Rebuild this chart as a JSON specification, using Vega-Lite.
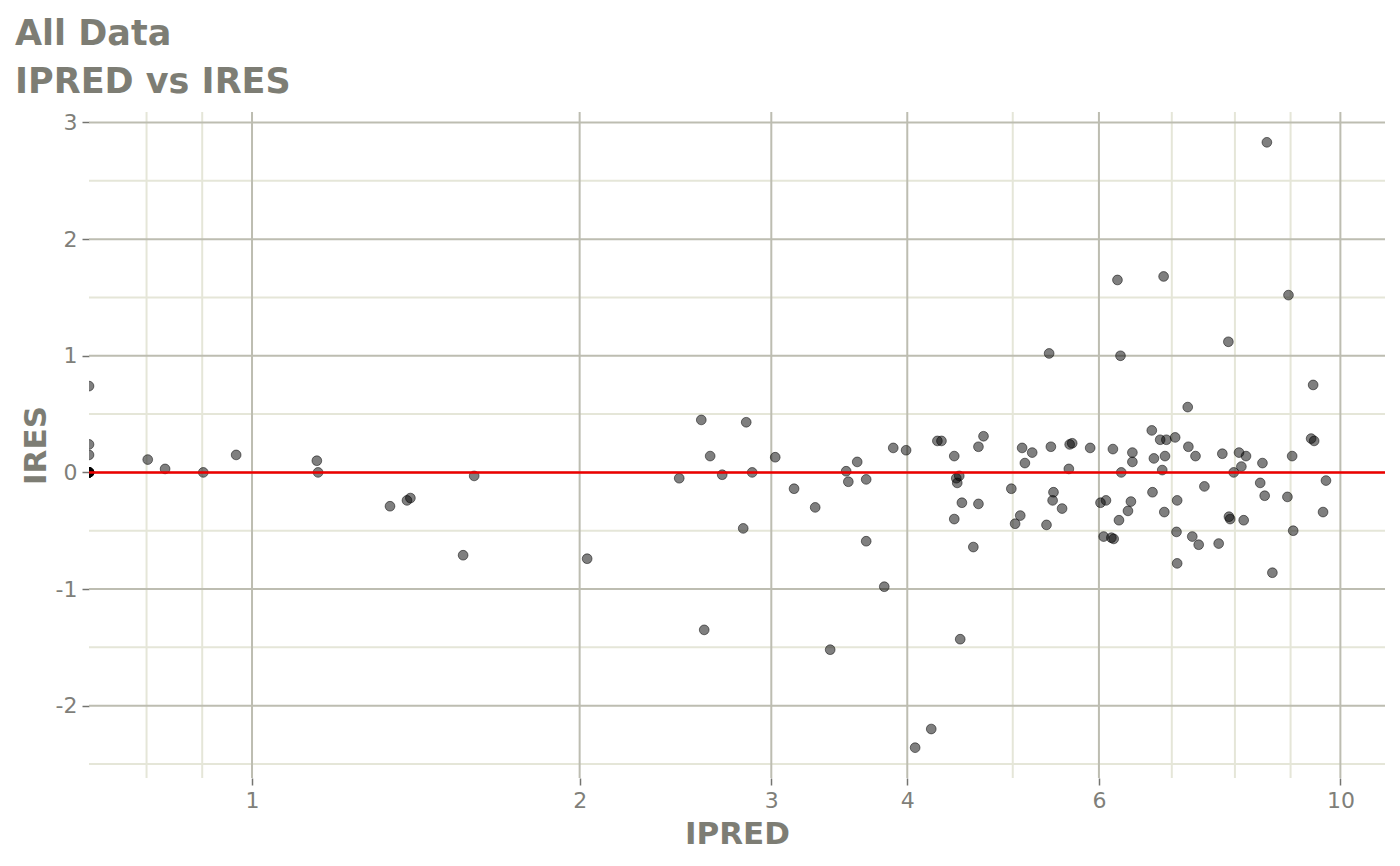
{
  "$schema": "https://vega.github.io/schema/vega-lite/v6.json",
  "width": 1296,
  "height": 666,
  "autosize": {"type": "none"},
  "padding": {"left": 89, "top": 112, "right": 15, "bottom": 88},
  "background": "white",
  "config": {
    "view": {"stroke": null},
    "font": "DejaVu Sans",
    "axis": {
      "grid": false,
      "domain": false,
      "ticks": true,
      "tickSize": 7,
      "tickWidth": 1.5,
      "tickColor": "#747470",
      "labelFont": "DejaVu Sans",
      "labelFontSize": 22,
      "labelColor": "#7f7f7a",
      "labelPadding": 5,
      "titleFont": "DejaVu Sans",
      "titleFontSize": 31,
      "titleFontWeight": "bold",
      "titleColor": "#7d7d74"
    },
    "axisX": {"titlePadding": 8},
    "axisY": {"titlePadding": 3}
  },
  "title": {
    "text": ["All Data", "IPRED vs IRES"],
    "anchor": "start",
    "frame": "group",
    "dx": -74,
    "offset": 11,
    "font": "DejaVu Sans",
    "fontSize": 35,
    "fontWeight": "bold",
    "color": "#7d7d74",
    "lineHeight": 48
  },
  "datasets": {
    "minorX": [{"v": 0.8}, {"v": 0.9}, {"v": 5}, {"v": 7}, {"v": 8}, {"v": 9}],
    "minorY": [{"v": -2.5}, {"v": -1.5}, {"v": -0.5}, {"v": 0.5}, {"v": 1.5}, {"v": 2.5}],
    "majorX": [{"v": 1}, {"v": 2}, {"v": 3}, {"v": 4}, {"v": 6}, {"v": 10}],
    "majorY": [{"v": -2}, {"v": -1}, {"v": 0}, {"v": 1}, {"v": 2}, {"v": 3}],
    "ref": [{"v": 0}],
    "points": [
      {"IPRED": 0.7083, "IRES": 0.74},
      {"IPRED": 0.7083, "IRES": 0.24},
      {"IPRED": 0.7083, "IRES": 0.15},
      {"IPRED": 0.7083, "IRES": 0},
      {"IPRED": 0.7083, "IRES": 0},
      {"IPRED": 0.7083, "IRES": 0},
      {"IPRED": 0.7083, "IRES": 0},
      {"IPRED": 0.7083, "IRES": 0},
      {"IPRED": 0.7083, "IRES": 0},
      {"IPRED": 0.802, "IRES": 0.11},
      {"IPRED": 0.832, "IRES": 0.03},
      {"IPRED": 0.902, "IRES": 0.0},
      {"IPRED": 0.967, "IRES": 0.15},
      {"IPRED": 1.147, "IRES": 0.10},
      {"IPRED": 1.150, "IRES": 0.0},
      {"IPRED": 1.339, "IRES": -0.29},
      {"IPRED": 1.388, "IRES": -0.24},
      {"IPRED": 1.398, "IRES": -0.22},
      {"IPRED": 1.563, "IRES": -0.71},
      {"IPRED": 1.600, "IRES": -0.03},
      {"IPRED": 2.032, "IRES": -0.74},
      {"IPRED": 2.469, "IRES": -0.05},
      {"IPRED": 2.587, "IRES": 0.45},
      {"IPRED": 2.603, "IRES": -1.35},
      {"IPRED": 2.636, "IRES": 0.14},
      {"IPRED": 2.704, "IRES": -0.02},
      {"IPRED": 2.827, "IRES": -0.48},
      {"IPRED": 2.845, "IRES": 0.43},
      {"IPRED": 2.881, "IRES": 0.0},
      {"IPRED": 3.025, "IRES": 0.13},
      {"IPRED": 3.148, "IRES": -0.14},
      {"IPRED": 3.292, "IRES": -0.30},
      {"IPRED": 3.398, "IRES": -1.52},
      {"IPRED": 3.515, "IRES": 0.01},
      {"IPRED": 3.531, "IRES": -0.08},
      {"IPRED": 3.598, "IRES": 0.09},
      {"IPRED": 3.667, "IRES": -0.59},
      {"IPRED": 3.667, "IRES": -0.06},
      {"IPRED": 3.81, "IRES": -0.98},
      {"IPRED": 3.883, "IRES": 0.21},
      {"IPRED": 3.99, "IRES": 0.19},
      {"IPRED": 4.067, "IRES": -2.36},
      {"IPRED": 4.208, "IRES": -2.20},
      {"IPRED": 4.263, "IRES": 0.27},
      {"IPRED": 4.30, "IRES": 0.27},
      {"IPRED": 4.418, "IRES": 0.14},
      {"IPRED": 4.418, "IRES": -0.40},
      {"IPRED": 4.437, "IRES": -0.05},
      {"IPRED": 4.446, "IRES": -0.09},
      {"IPRED": 4.465, "IRES": -0.03},
      {"IPRED": 4.474, "IRES": -1.43},
      {"IPRED": 4.49, "IRES": -0.26},
      {"IPRED": 4.60, "IRES": -0.64},
      {"IPRED": 4.65, "IRES": 0.22},
      {"IPRED": 4.65, "IRES": -0.27},
      {"IPRED": 4.70, "IRES": 0.31},
      {"IPRED": 4.985, "IRES": -0.14},
      {"IPRED": 5.025, "IRES": -0.44},
      {"IPRED": 5.08, "IRES": -0.37},
      {"IPRED": 5.10, "IRES": 0.21},
      {"IPRED": 5.13, "IRES": 0.08},
      {"IPRED": 5.21, "IRES": 0.17},
      {"IPRED": 5.37, "IRES": -0.45},
      {"IPRED": 5.40, "IRES": 1.02},
      {"IPRED": 5.42, "IRES": 0.22},
      {"IPRED": 5.44, "IRES": -0.24},
      {"IPRED": 5.45, "IRES": -0.17},
      {"IPRED": 5.55, "IRES": -0.31},
      {"IPRED": 5.63, "IRES": 0.03},
      {"IPRED": 5.64, "IRES": 0.24},
      {"IPRED": 5.67, "IRES": 0.25},
      {"IPRED": 5.89, "IRES": 0.21},
      {"IPRED": 6.02, "IRES": -0.26},
      {"IPRED": 6.06, "IRES": -0.55},
      {"IPRED": 6.09, "IRES": -0.24},
      {"IPRED": 6.16, "IRES": -0.56},
      {"IPRED": 6.18, "IRES": 0.20},
      {"IPRED": 6.19, "IRES": -0.57},
      {"IPRED": 6.24, "IRES": 1.65},
      {"IPRED": 6.26, "IRES": -0.41},
      {"IPRED": 6.28, "IRES": 1.00},
      {"IPRED": 6.29, "IRES": 0.0},
      {"IPRED": 6.38, "IRES": -0.33},
      {"IPRED": 6.42, "IRES": -0.25},
      {"IPRED": 6.44, "IRES": 0.17},
      {"IPRED": 6.44, "IRES": 0.09},
      {"IPRED": 6.71, "IRES": 0.36},
      {"IPRED": 6.72, "IRES": -0.17},
      {"IPRED": 6.74, "IRES": 0.12},
      {"IPRED": 6.83, "IRES": 0.28},
      {"IPRED": 6.86, "IRES": 0.02},
      {"IPRED": 6.88, "IRES": 1.68},
      {"IPRED": 6.89, "IRES": -0.34},
      {"IPRED": 6.90, "IRES": 0.14},
      {"IPRED": 6.92, "IRES": 0.28},
      {"IPRED": 7.05, "IRES": 0.30},
      {"IPRED": 7.07, "IRES": -0.51},
      {"IPRED": 7.08, "IRES": -0.78},
      {"IPRED": 7.08, "IRES": -0.24},
      {"IPRED": 7.24, "IRES": 0.56},
      {"IPRED": 7.25, "IRES": 0.22},
      {"IPRED": 7.31, "IRES": -0.55},
      {"IPRED": 7.36, "IRES": 0.14},
      {"IPRED": 7.41, "IRES": -0.62},
      {"IPRED": 7.50, "IRES": -0.12},
      {"IPRED": 7.73, "IRES": -0.61},
      {"IPRED": 7.79, "IRES": 0.16},
      {"IPRED": 7.89, "IRES": 1.12},
      {"IPRED": 7.90, "IRES": -0.38},
      {"IPRED": 7.92, "IRES": -0.40},
      {"IPRED": 7.98, "IRES": 0.0},
      {"IPRED": 8.07, "IRES": 0.17},
      {"IPRED": 8.11, "IRES": 0.05},
      {"IPRED": 8.15, "IRES": -0.41},
      {"IPRED": 8.19, "IRES": 0.14},
      {"IPRED": 8.44, "IRES": -0.09},
      {"IPRED": 8.48, "IRES": 0.08},
      {"IPRED": 8.52, "IRES": -0.20},
      {"IPRED": 8.56, "IRES": 2.83},
      {"IPRED": 8.66, "IRES": -0.86},
      {"IPRED": 8.94, "IRES": -0.21},
      {"IPRED": 8.96, "IRES": 1.52},
      {"IPRED": 9.03, "IRES": 0.14},
      {"IPRED": 9.05, "IRES": -0.50},
      {"IPRED": 9.40, "IRES": 0.29},
      {"IPRED": 9.44, "IRES": 0.75},
      {"IPRED": 9.46, "IRES": 0.27},
      {"IPRED": 9.64, "IRES": -0.34},
      {"IPRED": 9.70, "IRES": -0.07}
    ]
  },
  "layer": [
    {
      "data": {"name": "minorX"},
      "mark": {"type": "rule", "color": "#e5e6d8", "strokeWidth": 2},
      "encoding": {
        "x": {"field": "v", "type": "quantitative", "scale": {"type": "log"},
              "axis": {"values": [1, 2, 3, 4, 6, 10], "format": "~g", "title": "IPRED"}}
      }
    },
    {
      "data": {"name": "minorY"},
      "mark": {"type": "rule", "color": "#e5e6d8", "strokeWidth": 2},
      "encoding": {
        "y": {"field": "v", "type": "quantitative",
              "axis": {"values": [-2, -1, 0, 1, 2, 3], "labelExpr": "'' + datum.value", "title": "IRES"}}
      }
    },
    {
      "data": {"name": "majorX"},
      "mark": {"type": "rule", "color": "#bdbdb1", "strokeWidth": 2},
      "encoding": {
        "x": {"field": "v", "type": "quantitative", "scale": {"type": "log"},
              "axis": {"values": [1, 2, 3, 4, 6, 10], "format": "~g", "title": "IPRED"}}
      }
    },
    {
      "data": {"name": "majorY"},
      "mark": {"type": "rule", "color": "#bdbdb1", "strokeWidth": 2},
      "encoding": {
        "y": {"field": "v", "type": "quantitative",
              "axis": {"values": [-2, -1, 0, 1, 2, 3], "labelExpr": "'' + datum.value", "title": "IRES"}}
      }
    },
    {
      "data": {"name": "points"},
      "mark": {
        "type": "point",
        "shape": "circle",
        "filled": true,
        "clip": true,
        "size": 95,
        "fill": "black",
        "fillOpacity": 0.5,
        "stroke": "black",
        "strokeOpacity": 0.5,
        "strokeWidth": 1
      },
      "encoding": {
        "x": {
          "field": "IPRED",
          "type": "quantitative",
          "scale": {"type": "log", "domain": [0.7083, 10.99], "nice": false, "clamp": true},
          "axis": {"values": [1, 2, 3, 4, 6, 10], "format": "~g", "title": "IPRED"}
        },
        "y": {
          "field": "IRES",
          "type": "quantitative",
          "scale": {"domain": [-2.62, 3.09], "nice": false, "zero": false},
          "axis": {"values": [-2, -1, 0, 1, 2, 3], "labelExpr": "'' + datum.value", "title": "IRES"}
        }
      }
    },
    {
      "data": {"name": "ref"},
      "mark": {"type": "rule", "color": "#ee0000", "strokeWidth": 2.5},
      "encoding": {
        "y": {"field": "v", "type": "quantitative",
              "axis": {"values": [-2, -1, 0, 1, 2, 3], "labelExpr": "'' + datum.value", "title": "IRES"}}
      }
    }
  ]
}
